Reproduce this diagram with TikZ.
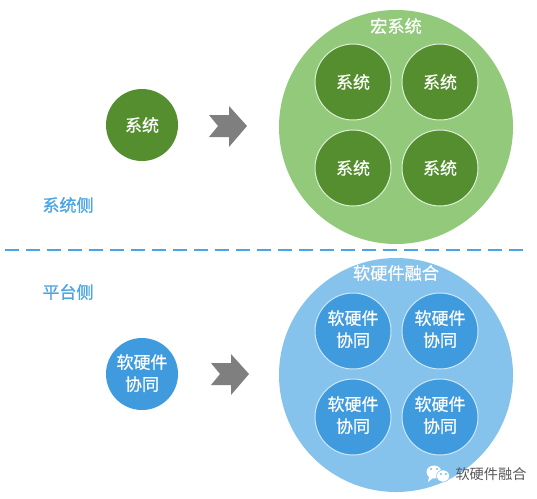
\documentclass[tikz,border=0pt]{standalone}
\usepackage{fontspec}
\newfontfamily\cjk{Noto Sans CJK SC}
\newfontfamily\cjkm{Noto Sans CJK SC}[FakeBold=0.5]
\newfontfamily\cjkb{Noto Sans CJK SC}[FakeBold=1]
\newcommand\duotext[1]{\raisebox{#1}[0pt][0pt]{\begin{tabular}{@{}c@{}}软硬件\\协同\end{tabular}}}
\definecolor{gbig}{HTML}{92C97A}
\definecolor{gsmall}{HTML}{548E2F}
\definecolor{bbig}{HTML}{85C2EC}
\definecolor{bsmall}{HTML}{3F9BDD}
\definecolor{lab}{HTML}{4AA5E2}
\definecolor{arr}{HTML}{7F7F7F}
\tikzset{
 x=1pt,y=-1pt,
 every node/.style={font=\cjk,inner sep=0pt,align=center},
 bigc/.style={circle,minimum size=234pt},
 inner/.style={circle,draw=white!70!gbig,line width=1pt,minimum size=76pt,text=white,font=\cjkm\fontsize{17}{22}\selectfont},
 gin/.style={inner,fill=gsmall},
 bin/.style={inner,fill=bsmall,draw=white!60!bbig},
 gleft/.style={circle,fill=gsmall,minimum size=72pt,text=white,font=\cjkm\fontsize{17}{22}\selectfont},
 bleft/.style={circle,fill=bsmall,minimum size=72pt,text=white,font=\cjkm\fontsize{17}{22}\selectfont},
 title/.style={text=white,font=\cjkm\fontsize{17.2}{20}\selectfont},
 side/.style={text=lab,font=\cjkb\fontsize{17}{20}\selectfont},
 block/.style={fill=arr,draw=none},
 sep/.style={draw=lab,line width=1.6pt,dash pattern=on 14pt off 7pt},
}
\begin{document}
\begin{tikzpicture}
\useasboundingbox (0,0) rectangle (537,498);
\fill[white] (0,0) rectangle (537,498);
% green
\node[bigc,fill=gbig] (G) at (396,127) {};
\node[title] (Gt) at (396,26) {宏系统};
\node[gin] (g1) at (353,82) {系统};
\node[gin] (g2) at (440,82) {系统};
\node[gin] (g3) at (353,168) {系统};
\node[gin] (g4) at (440,168) {系统};
\node[gleft] (gl) at (142,125) {系统};
\fill[block] (209,115) -- (229,115) -- (229,106) -- (247,126) -- (229,147) -- (229,137) -- (209,137) -- (218,126) -- cycle;
\node[side] (s1) at (68,205) {系统侧};
% separator
\coordinate (sepa) at (5,250);
\coordinate (sepb) at (525,250);
\draw[sep] (sepa) -- (sepb);
\node[side] (s2) at (68,292) {平台侧};
% blue
\node[bigc,fill=bbig] (B) at (396,375) {};
\node[title] (Bt) at (396,273) {软硬件融合};
\node[bin] (b1) at (353,331) {\duotext{-4.5pt}};
\node[bin] (b2) at (440,331) {\duotext{-4.5pt}};
\node[bin] (b3) at (353,417) {\duotext{-4.5pt}};
\node[bin] (b4) at (440,417) {\duotext{-4.5pt}};
\node[bleft] (bl) at (142,374) {\duotext{-5.5pt}};
\fill[block] (211,363) -- (231,363) -- (231,354) -- (249,374) -- (231,395) -- (231,385) -- (211,385) -- (220,374) -- cycle;
% watermark
\fill[white] (434,472) ellipse (7.5 and 6.5);
\fill[white] (429,477) -- (428,482) -- (433,478) -- cycle;
\fill[white,draw=bbig,line width=.5pt] (443,476) ellipse (6.5 and 6);
\fill[bsmall] (431,469) circle (.9) (437,469) circle (.9) (441,474) circle (.8) (446,474) circle (.8);
\node[text=black!65,font=\cjk\fontsize{14.2}{16}\selectfont] (wm) at (491,474) {软硬件融合};
\end{tikzpicture}
\end{document}
